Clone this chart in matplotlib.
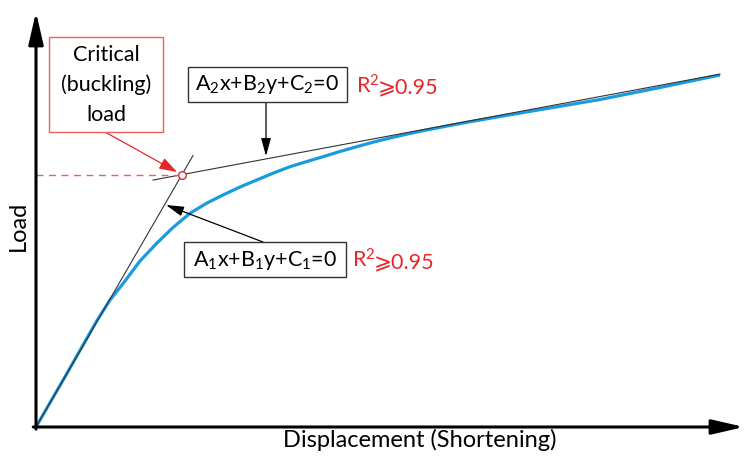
import matplotlib
matplotlib.use("Agg")
import matplotlib.pyplot as plt
import matplotlib.transforms as mtransforms
from matplotlib.patches import Rectangle
import numpy as np

# ---- data (displacement, load in arbitrary units) ----
curve_x = [0.0, 0.439, 0.887, 1.082, 1.276, 1.520, 1.765, 2.003, 2.251, 2.500, 2.734, 2.982,
           3.227, 3.465, 3.713, 3.962, 4.196, 4.444, 4.689, 4.927, 5.175, 5.409, 5.658,
           6.009, 6.345, 6.784, 7.515, 8.246, 9.123, 10.0]
curve_y = [0.0, 1.477, 3.011, 3.608, 4.082, 4.716, 5.219, 5.668, 6.071, 6.364, 6.591, 6.818,
           7.017, 7.210, 7.395, 7.543, 7.679, 7.827, 7.963, 8.091, 8.210, 8.315, 8.418,
           8.551, 8.673, 8.821, 9.063, 9.304, 9.645, 10.0]
line1_slope, line1_icpt = 3.36, 0.0        # A1x+B1y+C1=0
line1_x = [0.0, 2.295]
line2_slope, line2_icpt = 0.363, 6.395     # A2x+B2y+C2=0
line2_x = [1.71, 10.0]
x_label = "Displacement (Shortening)"
y_label = "Load"
eq1 = r"A$_1$x+B$_1$y+C$_1$=0"
eq2 = r"A$_2$x+B$_2$y+C$_2$=0"
r2_a = r"R$^2$"
r2_b = "⩾0.95"
crit_text = "Critical\n(buckling)\nload"

W, H = 744, 458
plt.rcParams["mathtext.fontset"] = "custom"
plt.rcParams["mathtext.rm"] = "Lato"
plt.rcParams["mathtext.it"] = "Lato"
FONT = ["Lato", "DejaVu Sans"]

fig = plt.figure(figsize=(W / 100, H / 100), dpi=100)
ax = fig.add_axes([0, 0, 1, 1])
sx, sy = 68.4, 35.2          # px per unit
ox, oy = 36, 427             # origin pixel (from top-left)
ax.set_xlim(-ox / sx, (W - ox) / sx)
ax.set_ylim(-(H - oy) / sy, oy / sy)
ax.axis("off")

# pixel transform for layout (top-left origin)
pix = mtransforms.Affine2D().scale(1, -1).translate(0, H)

red = "#e8262a"
red_l = "#e86060"
blue = "#1a9be0"
dark = "#333333"

# curve
ax.plot(curve_x, curve_y, color=blue, lw=2.3, solid_joinstyle="round", solid_capstyle="butt", zorder=2)
# fitted lines
l1x = np.array(line1_x)
ax.plot(l1x, line1_slope * l1x + line1_icpt, color=dark, lw=0.8, zorder=3)
l2x = np.array(line2_x)
ax.plot(l2x, line2_slope * l2x + line2_icpt, color=dark, lw=0.8, zorder=3)

# intersection
xi = (line2_icpt - line1_icpt) / (line1_slope - line2_slope)
yi = line1_slope * xi + line1_icpt
ax.plot([0, xi], [yi, yi], color=red_l, lw=1.0, ls=(0, (5, 4)), zorder=3)
ax.plot([xi], [yi], marker="o", ms=5.5, mfc="white", mec=red, mew=1.0, zorder=5)

# axes arrows
amax_x = (W - ox) / sx
amax_y = (oy - 12) / sy
ax.annotate("", xy=(amax_x, 0), xytext=(-0.04, 0),
            arrowprops=dict(arrowstyle="-|>,head_length=1.3,head_width=0.3", mutation_scale=15,
                            lw=2.2, color="black", shrinkA=0, shrinkB=0), zorder=4)
ax.annotate("", xy=(0, amax_y), xytext=(0, -0.06),
            arrowprops=dict(arrowstyle="-|>,head_length=1.3,head_width=0.3", mutation_scale=15,
                            lw=2.2, color="black", shrinkA=0, shrinkB=0), zorder=4)

fs_lab = 17
fs_eq = 15.5
# axis labels
ax.text(420, 440, x_label, transform=pix, ha="center", va="center", fontsize=fs_lab, family=FONT)
ax.text(18, 226, y_label, transform=pix, ha="center", va="center", fontsize=fs_lab, rotation=90, family=FONT)

# boxes
def box(x0, y0, x1, y1, ec, lw=1.0):
    r = Rectangle((x0, y1), x1 - x0, y0 - y1, transform=pix, fill=True, fc="white",
                  ec=ec, lw=lw, zorder=6, clip_on=False)
    ax.add_patch(r)

def r2(x, y_base):
    t1 = ax.text(x, y_base, r2_a, transform=pix, ha="left", va="baseline", fontsize=fs_eq,
                 family=FONT, color=red, zorder=7)
    fig.canvas.draw()
    bb = t1.get_window_extent()
    ax.text(bb.x1 - 2, H - y_base, r2_b, transform=mtransforms.IdentityTransform(), ha="left",
            va="baseline", fontsize=fs_eq, family=FONT, color=red, zorder=7)

box(188, 67, 347, 102, dark)
ax.text(267.5, 85, eq2, transform=pix, ha="center", va="center", fontsize=fs_eq, family=FONT, zorder=7)
r2(356, 93)

box(184, 242, 346, 277, dark)
ax.text(265, 260, eq1, transform=pix, ha="center", va="center", fontsize=fs_eq, family=FONT, zorder=7)
r2(352, 268)

box(49, 37, 163, 132, red_l)
ax.text(106, 85, crit_text, transform=pix, ha="center", va="center", fontsize=fs_eq, family=FONT,
        linespacing=1.6, zorder=7)

# annotation arrows
ax.annotate("", xy=(266, 156), xytext=(266, 103), xycoords=pix, textcoords=pix,
            arrowprops=dict(arrowstyle="-|>,head_length=0.9,head_width=0.25", mutation_scale=12,
                            lw=0.9, color="black", shrinkA=0, shrinkB=0))
ax.annotate("", xy=(166, 205), xytext=(263, 242), xycoords=pix, textcoords=pix,
            arrowprops=dict(arrowstyle="-|>,head_length=0.9,head_width=0.25", mutation_scale=12,
                            lw=0.9, color="black", shrinkA=0, shrinkB=0))
ax.annotate("", xy=(177, 172), xytext=(105, 132), xycoords=pix, textcoords=pix,
            arrowprops=dict(arrowstyle="-|>,head_length=0.9,head_width=0.3", mutation_scale=12,
                            lw=0.9, color=red, shrinkA=0, shrinkB=0))

fig.savefig("out.png", dpi=100)
